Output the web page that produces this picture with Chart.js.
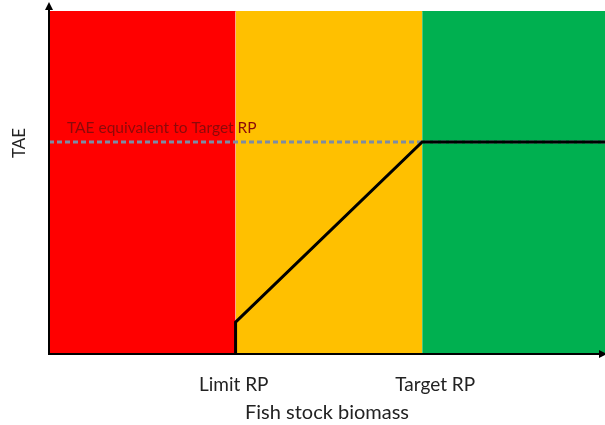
<!DOCTYPE html>
<html>
<head>
<meta charset="utf-8">
<script src="https://cdn.jsdelivr.net/npm/chart.js@4"></script>
<style>
  html, body { margin: 0; padding: 0; background: #fff; }
  #wrap { width: 605px; height: 425px; }
</style>
</head>
<body>
<div id="wrap"><canvas id="hcr" width="605" height="425"></canvas></div>
<script>
'use strict';

// zones along the biomass axis
var zoneEdges  = [0, 1, 2, 3];
var zoneColors = ['#ff0000', '#ffc000', '#00b050'];
var xMax       = 2.98;
var yTop       = 10;

// harvest control rule (TAE against biomass)
var ruleX = [1, 1, 2, 3];
var ruleY = [0, 0.93, 6.18, 6.18];

// TAE at target reference point
var targetTAE   = 6.18;
var targetLabel = 'TAE equivalent to Target RP';

// x tick labels
var tickValues = [0.99, 2.07];
var tickLabels = ['Limit RP', 'Target RP'];

var FONT = 'Lato, "Open Sans", sans-serif';

function zoneDataset(i) {
    return {
        data: [{x: zoneEdges[i], y: yTop}, {x: zoneEdges[i + 1], y: yTop}],
        backgroundColor: zoneColors[i],
        borderColor: zoneColors[i],
        borderWidth: 1,
        pointRadius: 0,
        fill: 'origin',
        order: 10
    };
}

var datasets = [];
for (var i = 0; i < zoneColors.length; i++) {
    datasets.push(zoneDataset(i));
}

// dashed TAE target line
datasets.push({
    data: [{x: zoneEdges[0], y: targetTAE}, {x: zoneEdges[zoneEdges.length - 1], y: targetTAE}],
    borderColor: '#7d8ca4',
    borderWidth: 3,
    borderDash: [5, 3],
    pointRadius: 0,
    fill: false,
    order: 2
});

// the rule itself
datasets.push({
    data: ruleX.map(function (x, k) { return {x: x, y: ruleY[k]}; }),
    borderColor: '#000',
    borderWidth: 3,
    pointRadius: 0,
    fill: false,
    tension: 0,
    order: 1
});

// axis lines, arrows and free text
var decorations = {
    id: 'decorations',
    afterDatasetsDraw: function (chart) {
        var ctx = chart.ctx;
        var xs = chart.scales.x, ys = chart.scales.y;
        var x0 = xs.getPixelForValue(0);
        var y0 = ys.getPixelForValue(0);

        ctx.save();

        // annotation text
        ctx.fillStyle = '#8b0a0a';
        ctx.font = '15.5px ' + FONT;
        ctx.textAlign = 'left';
        ctx.textBaseline = 'middle';
        ctx.fillText(targetLabel, x0 + 18, ys.getPixelForValue(targetTAE) - 14);

        // axes
        ctx.strokeStyle = '#000';
        ctx.fillStyle = '#000';
        ctx.lineWidth = 2;
        ctx.beginPath();
        ctx.moveTo(x0, y0);
        ctx.lineTo(x0, 8);
        ctx.moveTo(x0 - 1, y0);
        ctx.lineTo(chart.width - 4, y0);
        ctx.stroke();

        // arrow heads
        ctx.beginPath();
        ctx.moveTo(x0, 2);
        ctx.lineTo(x0 - 4, 10);
        ctx.lineTo(x0 + 4, 10);
        ctx.closePath();
        ctx.fill();
        ctx.beginPath();
        ctx.moveTo(chart.width + 2, y0);
        ctx.lineTo(chart.width - 6, y0 - 4);
        ctx.lineTo(chart.width - 6, y0 + 4);
        ctx.closePath();
        ctx.fill();

        // y axis title
        ctx.fillStyle = '#222';
        ctx.font = '17px ' + FONT;
        ctx.textAlign = 'center';
        ctx.translate(20, 143);
        ctx.rotate(-Math.PI / 2);
        ctx.fillText('TAE', 0, 0);

        ctx.restore();
    }
};

var ctx = document.getElementById('hcr').getContext('2d');
var chart = new Chart(ctx, {
    type: 'line',
    data: { datasets: datasets },
    options: {
        responsive: false,
        animation: false,
        layout: { padding: { top: 11, right: 0, left: 0, bottom: 0 } },
        plugins: {
            legend: { display: false },
            tooltip: { enabled: false }
        },
        scales: {
            x: {
                type: 'linear',
                min: zoneEdges[0],
                max: xMax,
                grid: { display: false, drawTicks: false },
                border: { display: false },
                afterBuildTicks: function (scale) {
                    scale.ticks = tickValues.map(function (v) { return {value: v}; });
                },
                afterFit: function (scale) { scale.height = 71; },
                ticks: {
                    autoSkip: false,
                    maxRotation: 0,
                    padding: 19,
                    color: '#222',
                    font: { family: FONT, size: 19 },
                    callback: function (value) {
                        return tickLabels[tickValues.indexOf(value)];
                    }
                },
                title: {
                    display: true,
                    text: 'Fish stock biomass',
                    color: '#222',
                    font: { family: FONT, size: 20 },
                    padding: { top: 0, bottom: 0 }
                }
            },
            y: {
                type: 'linear',
                min: 0,
                max: yTop,
                grid: { display: false, drawTicks: false },
                border: { display: false },
                ticks: { display: false },
                afterFit: function (scale) { scale.width = 49; }
            }
        }
    },
    plugins: [decorations]
});
</script>
</body>
</html>
